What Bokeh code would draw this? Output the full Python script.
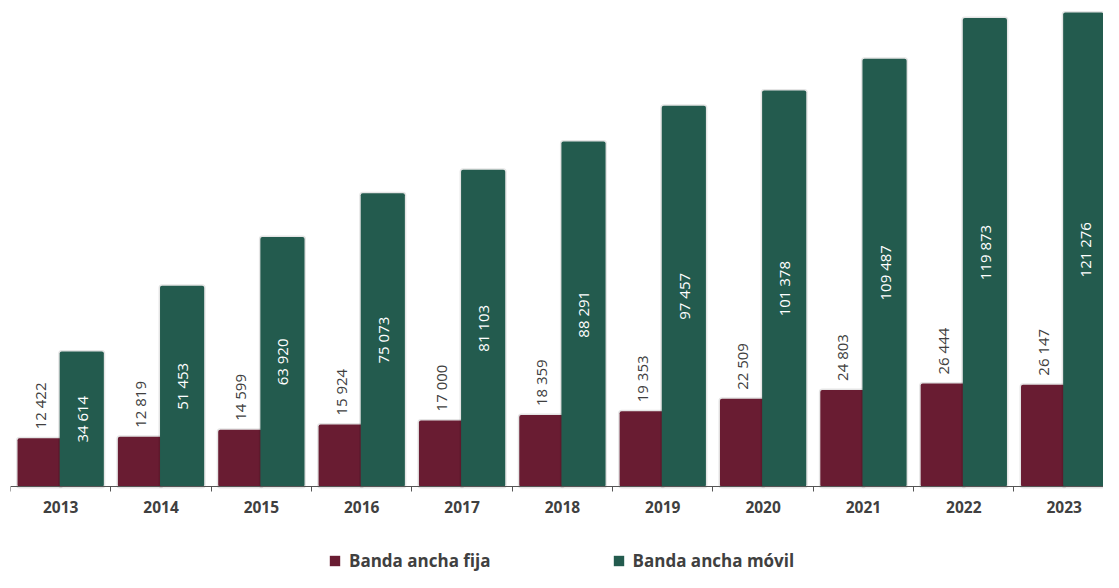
import math
from bokeh.plotting import figure
from bokeh.models import ColumnDataSource, FixedTicker, Range1d, Legend, LegendItem
from bokeh.transform import dodge
from bokeh.core.properties import value
from bokeh.embed import file_html
from bokeh.resources import INLINE

# ---- data ----
years = ["2013", "2014", "2015", "2016", "2017", "2018", "2019", "2020", "2021", "2022", "2023"]
fija = [12422, 12819, 14599, 15924, 17000, 18359, 19353, 22509, 24803, 26444, 26147]
movil = [34614, 51453, 63920, 75073, 81103, 88291, 97457, 101378, 109487, 119873, 121276]
series_names = ["Banda ancha fija", "Banda ancha móvil"]

FIJA_COLOR = "#691C32"
MOVIL_COLOR = "#235B4E"
TEXT_GRAY = "#404040"


def fmt(v):
    return f"{v:,}".replace(",", " ")


idx = list(range(len(years)))
source = ColumnDataSource(dict(
    x=idx,
    fija=fija,
    movil=movil,
    movil_mid=[v / 2 for v in movil],
    fija_lbl=[fmt(v) for v in fija],
    movil_lbl=[fmt(v) for v in movil],
))

p = figure(width=1103, height=572,
           x_range=Range1d(-0.5, 10.392), y_range=Range1d(-21890, 124370),
           output_backend="svg", toolbar_location=None,
           y_axis_location=None,
           min_border_left=10, min_border_right=0, min_border_top=0, min_border_bottom=0)
p.xgrid.visible = False
p.ygrid.visible = False
p.outline_line_color = None
p.background_fill_color = "white"
p.border_fill_color = "white"

off = 0.21
bw = 0.44

# shadows + bars
p.vbar(x=dodge("x", -off), top="fija", width=bw, source=source,
       fill_color=None, line_color="black", line_alpha=0.10, line_width=3, border_radius=2)
r_fija = p.vbar(x=dodge("x", -off), top="fija", width=bw, source=source,
                fill_color=FIJA_COLOR, line_color=None, border_radius=2)
p.vbar(x=dodge("x", off), top="movil", width=bw, source=source,
       fill_color=None, line_color="black", line_alpha=0.10, line_width=3, border_radius=2)
r_movil = p.vbar(x=dodge("x", off), top="movil", width=bw, source=source,
                 fill_color=MOVIL_COLOR, line_color=None, border_radius=2)

# value labels
p.text(x=dodge("x", -off), y="fija", text="fija_lbl", source=source,
       angle=math.pi / 2, text_align="left", text_baseline="middle", y_offset=-9,
       text_font=value("Open Sans"), text_font_size="15px", text_color=TEXT_GRAY)
p.text(x=dodge("x", off), y="movil_mid", text="movil_lbl", source=source,
       angle=math.pi / 2, text_align="center", text_baseline="middle",
       text_font=value("Open Sans"), text_font_size="15px", text_color="white")

# x axis, pinned at y = 0
ax = p.xaxis[0]
ax.fixed_location = 0
ax.ticker = FixedTicker(ticks=idx, minor_ticks=[i - 0.5 for i in range(len(years) + 1)])
ax.major_label_overrides = {i: y for i, y in enumerate(years)}
ax.major_tick_line_color = None
ax.major_tick_out = 6
ax.major_tick_in = 0
ax.minor_tick_line_color = "#555555"
ax.minor_tick_out = 5
ax.minor_tick_in = 0
ax.axis_line_color = "#555555"
ax.axis_line_width = 1
ax.major_label_standoff = 8
ax.major_label_text_font = "Open Sans"
ax.major_label_text_font_style = "bold"
ax.major_label_text_font_size = "15.5px"
ax.major_label_text_color = TEXT_GRAY

legend = Legend(items=[LegendItem(label=series_names[0], renderers=[r_fija]),
                       LegendItem(label=series_names[1], renderers=[r_movil])],
                orientation="horizontal", location=(318, 0),
                border_line_color=None, background_fill_alpha=0,
                label_text_font="Open Sans", label_text_font_style="bold",
                label_text_font_size="17px", label_text_color=TEXT_GRAY,
                glyph_width=13, glyph_height=13, label_standoff=8,
                spacing=121, padding=0, margin=0)
p.add_layout(legend)

open("out.html", "w").write(file_html(p, INLINE))
